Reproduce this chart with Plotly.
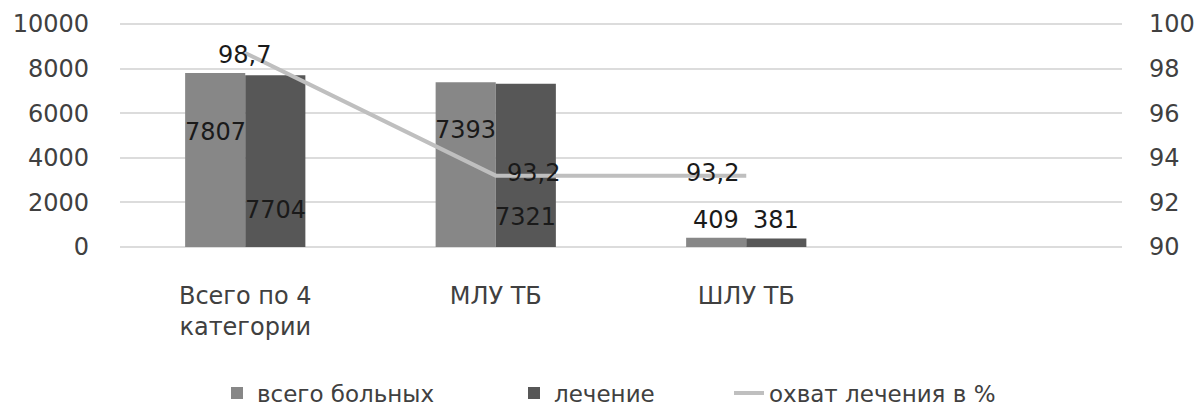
import plotly.graph_objects as go

# ---- data ----
categories = ["Всего по 4<br>категории", "МЛУ ТБ", "ШЛУ ТБ"]
total_patients = [7807, 7393, 409]
treated = [7704, 7321, 381]
coverage_pct = [98.7, 93.2, 93.2]
series_names = ["всего больных", "лечение", "охват лечения в %"]
left_ticks = [0, 2000, 4000, 6000, 8000, 10000]
right_ticks = [90, 92, 94, 96, 98, 100]

# ---- style / label placement ----
FONT = "DejaVu Sans"
TXT = "#404040"
LBL = "#1a1a1a"
C_TOTAL = "#878787"
C_TREAT = "#575757"
C_LINE = "#BFBFBF"
GRID = "#DCDCDC"

# label vertical placement (left-axis units) for the bar value labels
total_label_pos = [5157, 5247, 1210]
treat_label_pos = [1660, 1345, 1210]
# pixel shifts for the line labels
line_label_shift = [(-1, -2), (38, 3), (-34, 3)]

fig = go.Figure()
fig.add_bar(x=categories, y=total_patients, name=series_names[0],
            marker=dict(color=C_TOTAL, line=dict(width=0)), legend="legend")
fig.add_bar(x=categories, y=treated, name=series_names[1],
            marker=dict(color=C_TREAT, line=dict(width=0)), legend="legend2")
fig.add_scatter(x=categories, y=coverage_pct, name=series_names[2], yaxis="y2",
                mode="lines", line=dict(color=C_LINE, width=4), legend="legend3")

annotations = []
for i, cat in enumerate(categories):
    annotations.append(dict(x=cat, y=total_label_pos[i], xref="x", yref="y",
                            xshift=-30, text=str(total_patients[i]), showarrow=False,
                            font=dict(family=FONT, size=24, color=LBL)))
    annotations.append(dict(x=cat, y=treat_label_pos[i], xref="x", yref="y",
                            xshift=30, text=str(treated[i]), showarrow=False,
                            font=dict(family=FONT, size=24, color=LBL)))
    dx, dy = line_label_shift[i]
    annotations.append(dict(x=cat, y=coverage_pct[i], xref="x", yref="y2",
                            xshift=dx, yshift=dy,
                            text=f"{coverage_pct[i]:.1f}".replace(".", ","),
                            showarrow=False,
                            font=dict(family=FONT, size=24, color=LBL)))

# small padding so the 0 / 10000 gridlines are not clipped at the plot edges
PAD = 90
Y_LO, Y_HI = 0 - PAD, 10000 + PAD
Y2_LO, Y2_HI = 90 - PAD / 1000, 100 + PAD / 1000

TOP, BOTTOM = 22, 249
PH = BOTTOM - TOP
PW = 1002.0
def px_to_paper_x(px):
    return (px - 120) / PW
def px_to_paper_y(py):
    return (BOTTOM - py) / PH

legend_common = dict(orientation="h", xref="paper", yref="paper",
                     yanchor="middle", xanchor="left", y=px_to_paper_y(393),
                     font=dict(family=FONT, size=23, color=TXT),
                     bgcolor="rgba(0,0,0,0)", borderwidth=0)

fig.update_layout(
    width=1200, height=408, autosize=False,
    margin=dict(l=120, r=78, t=TOP, b=408 - BOTTOM, autoexpand=False),
    paper_bgcolor="white", plot_bgcolor="white",
    barmode="group", bargap=0.52, bargroupgap=0,
    showlegend=True,
    legend=dict(legend_common, x=px_to_paper_x(217)),
    legend2=dict(legend_common, x=px_to_paper_x(514)),
    legend3=dict(legend_common, x=px_to_paper_x(729)),
    xaxis=dict(type="category", categoryorder="array", categoryarray=categories,
               range=[-0.5, 3.5], showgrid=False, showline=False, zeroline=False,
               ticks="", ticklabelstandoff=30,
               tickfont=dict(family=FONT, size=24, color=TXT)),
    yaxis=dict(range=[Y_LO, Y_HI], tickvals=left_ticks,
               ticktext=[str(v) for v in left_ticks], showgrid=True,
               gridcolor=GRID, gridwidth=1.5, zeroline=False, showline=False,
               ticks="", ticklabelstandoff=30,
               tickfont=dict(family=FONT, size=24, color=TXT)),
    yaxis2=dict(range=[Y2_LO, Y2_HI], tickvals=right_ticks,
                ticktext=[str(v) for v in right_ticks],
                overlaying="y", side="right",
                showgrid=False, zeroline=False, showline=False, ticks="",
                ticklabelstandoff=26,
                tickfont=dict(family=FONT, size=24, color=TXT)),
    annotations=annotations,
)

fig.write_html("out.html",
               config={"displayModeBar": False},
               post_script="document.body.style.margin='0';"
                           "document.body.style.overflow='hidden';")
